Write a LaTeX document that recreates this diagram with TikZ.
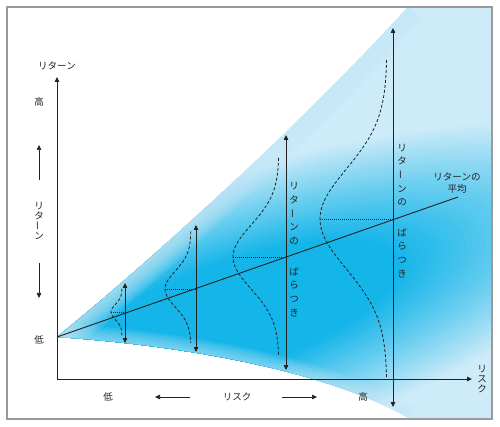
\documentclass[tikz,border=0pt]{standalone}
\usepackage{fontspec}
\setmainfont{Noto Sans CJK JP}
\usetikzlibrary{arrows.meta}
\definecolor{framegray}{HTML}{9A9A9A}
\definecolor{fcA}{HTML}{14B5E9}
\definecolor{fcC}{HTML}{CDEBF8}
\definecolor{fcE}{HTML}{C4E8F7}
\definecolor{ink}{HTML}{222222}
\newcommand{\vbar}{\raisebox{0.15em}{\rotatebox[origin=c]{90}{ー}}}
\begin{document}
\begin{tikzpicture}[x=1pt,y=-1pt,
  font=\fontsize{9.5}{11}\selectfont, text=ink,
  ar/.style={draw=ink,-{Triangle[length=5pt,width=4.5pt]},line width=0.8pt},
  dar/.style={draw=ink,{Triangle[length=5pt,width=4.5pt]}-{Triangle[length=5pt,width=4.5pt]},line width=0.8pt},
  bell/.style={draw=ink,dash pattern=on 3pt off 2pt,line width=0.8pt},
  meanlink/.style={draw=ink,dash pattern=on 1pt off 1pt,line width=0.8pt},
  edgeglow/.style={draw=fcE,opacity=0.11},
  lbl/.style={inner sep=0pt},
  vlbl/.style={inner sep=0pt,align=center,font=\fontsize{9.5}{13.6}\selectfont},
  vlbls/.style={inner sep=0pt,align=center,font=\fontsize{9.5}{10}\selectfont}]
\useasboundingbox (0,0) rectangle (500,427);
\fill[white] (0,0) rectangle (500,427);
% fan
\begin{scope}
\clip (7,7) rectangle (492,419);
\clip (57,337) .. controls (150,262) and (300,125) .. (408,7) -- (420,-10) -- (520,-10) -- (520,450) -- (440,450) -- (410,419) .. controls (330,372) and (190,346) .. (57,337) -- cycle;
\fill[fcC] (0,0) rectangle (500,427);
\foreach \i in {0,...,60}{
  \pgfmathsetmacro\r{1-\i/60}
  \pgfmathtruncatemacro\p{min(100,100*(1-\r)/0.6)}
  \fill[fcA!\p!fcC, rotate around={19:(230,318)}] (230,318) ellipse [x radius={450*\r}, y radius={140*\r}];
}
\foreach \w in {42,38,34,30,26,22,18,14,10,6,3}{
  \draw[edgeglow,line width=\w pt] (57,337) .. controls (150,262) and (300,125) .. (408,7);
}
\foreach \w in {28,24,20,16,12,8,4}{
  \draw[edgeglow,line width=\w pt] (57,337) .. controls (190,346) and (330,372) .. (410,419);
}
\end{scope}
% axes
\coordinate (O) at (57,379);
\coordinate (Ytop) at (57,77);
\coordinate (Xend) at (472,379);
\draw[ar,line width=0.9pt] (O) -- (Ytop);
\draw[ar,line width=0.9pt] (O) -- (Xend);
% mean line
\coordinate (apex) at (57,337);
\coordinate (meanend) at (458,197);
\draw[draw=ink,line width=0.9pt] (apex) -- (meanend);
% bell curves
\draw[bell] plot[variable=\t,domain=-3.1:3.1,samples=50,smooth] ({122-11*exp(-\t*\t/2)},{312+7.5*\t});
\draw[bell] plot[variable=\t,domain=-3.2:3.0,samples=60,smooth] ({191-26*exp(-\t*\t/2)},{289+18*\t});
\draw[bell] plot[variable=\t,domain=-3.1:3.1,samples=70,smooth] ({279-46*exp(-\t*\t/2)},{257+32*\t});
\draw[bell] plot[variable=\t,domain=-3.18:3.18,samples=80,smooth] ({387-67*exp(-\t*\t/2)},{219+50*\t});
% peak links
\coordinate (p1) at (111,312.5); \coordinate (m1) at (125,312.5);
\coordinate (p2) at (165,289); \coordinate (m2) at (196,289);
\coordinate (p3) at (233,257); \coordinate (m3) at (286,257);
\coordinate (p4) at (320,219.5); \coordinate (m4) at (393,219.5);
\draw[meanlink] (p1) -- (m1);
\draw[meanlink] (p2) -- (m2);
\draw[meanlink] (p3) -- (m3);
\draw[meanlink] (p4) -- (m4);
% spread arrows
\coordinate (a1t) at (125,283); \coordinate (a1b) at (125,343);
\coordinate (a2t) at (196,225); \coordinate (a2b) at (196,352);
\coordinate (a3t) at (286,135); \coordinate (a3b) at (286,370);
\coordinate (a4t) at (393,28); \coordinate (a4b) at (393,407);
\draw[dar,line width=0.75pt] (a1b) -- (a1t);
\draw[dar,line width=0.75pt] (a2b) -- (a2t);
\draw[dar,line width=0.75pt] (a3b) -- (a3t);
\draw[dar,line width=0.75pt] (a4b) -- (a4t);
% labels on arrows
\node[vlbl] (v3a) at (294,213.5) {リ\\タ\\\vbar\\ン\\の};
\node[vlbl] (v3b) at (294,292) {ば\\ら\\つ\\き};
\node[vlbl] (v4a) at (402,175) {リ\\タ\\\vbar\\ン\\の};
\node[vlbl] (v4b) at (402,253) {ば\\ら\\つ\\き};
\node[lbl,align=center,font=\fontsize{9.5}{12}\selectfont] (meanlbl) at (457,183) {リターンの\\平均};
% axis labels
\node[lbl] (ylbl) at (57,66) {リターン};
\node[vlbls] (xlbl) at (482,379) {リ\\ス\\ク};
% left scale
\node[lbl] (yhigh) at (39,102) {高};
\coordinate (ua1) at (39,180); \coordinate (ua2) at (39,145);
\draw[ar,line width=0.7pt] (ua1) -- (ua2);
\node[vlbls] (yret) at (39,221) {リ\\タ\\\vbar\\ン};
\coordinate (da1) at (39,263); \coordinate (da2) at (39,298);
\draw[ar,line width=0.7pt] (da1) -- (da2);
\node[lbl] (ylow) at (39,340) {低};
% bottom scale
\node[lbl] (xlow) at (108,397) {低};
\coordinate (la1) at (190,397); \coordinate (la2) at (155,397);
\draw[ar,line width=0.7pt] (la1) -- (la2);
\node[lbl] (xrisk) at (237,397) {リスク};
\coordinate (ra1) at (282,397); \coordinate (ra2) at (317,397);
\draw[ar,line width=0.7pt] (ra1) -- (ra2);
\node[lbl] (xhigh) at (363,397) {高};
% frame
\draw[framegray,line width=1.2pt] (7,7) rectangle (492,419);
\end{tikzpicture}
\end{document}
